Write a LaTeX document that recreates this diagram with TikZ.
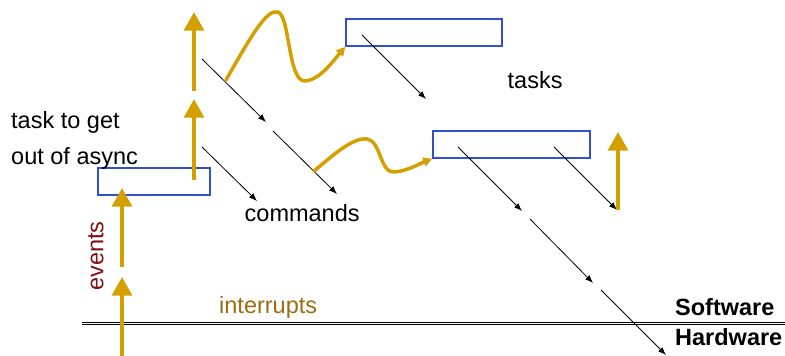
\documentclass[tikz,border=0pt]{standalone}
\usepackage{fontspec}
\setmainfont{Liberation Sans}
\usetikzlibrary{arrows.meta}
\definecolor{flowgold}{RGB}{212,160,0}
\definecolor{irqbrown}{RGB}{158,108,16}
\definecolor{evred}{RGB}{128,16,16}
\definecolor{boxblue}{RGB}{50,80,200}
\tikzset{
  lbl/.style={inner sep=0pt, anchor=base west, font=\fontsize{23.5}{28}\selectfont},
  taskbox/.style={draw=boxblue, line width=1.5pt, fill=white, inner sep=0pt, minimum height=27pt},
  upflow/.style={draw=flowgold, line width=4pt, -{Triangle[length=18.5pt,width=19.5pt]}},
  wavy/.style={draw=flowgold, line width=3.5pt, line cap=round, -{Triangle[length=9pt,width=9pt]}},
  call/.style={draw=black, line width=0.8pt, -{Latex[length=8pt,width=6pt]}}
}
\begin{document}
\begin{tikzpicture}[x=1pt,y=-1pt]
\useasboundingbox (0,0) rectangle (785,356);

% software / hardware boundary
\coordinate (bl) at (82,323.4);
\coordinate (br) at (785,323.4);
\draw[double=white, line width=1.2pt, double distance=1.2pt] (bl) -- (br);

% task boxes
\node[taskbox, minimum width=112pt] (r0) at (154,181.5) {};
\node[taskbox, minimum width=156pt] (r1) at (424,32.5) {};
\node[taskbox, minimum width=157pt] (r2) at (511.5,144.5) {};

% thin call arrows
\foreach \n/\sx/\sy/\tx/\ty in {1/202/59/266/122, 2/273/131/337/194, 3/202/147/257/201,
  4/362/35/426/99, 5/458/147/522/211, 6/554/147/617/210, 7/530/219/593/283, 8/601/290/666/355}{
  \coordinate (cs\n) at (\sx,\sy);
  \coordinate (ct\n) at (\tx,\ty);
  \draw[call] (cs\n) -- (ct\n);
}

% vertical event arrows
\foreach \n/\x/\sy/\ty in {1/122/356/277, 2/122/267/188, 3/194/180/99, 4/194/91/12, 5/618/210/132}{
  \coordinate (us\n) at (\x,\sy);
  \coordinate (ut\n) at (\x,\ty);
  \draw[upflow] (us\n) -- (ut\n);
}

% posting tasks
\coordinate (w1) at (226,80);
\coordinate (w2) at (314,171);
\draw[wavy] (w1) .. controls (250,38) and (267,8) .. (278,12)
  .. controls (290,16) and (288,82) .. (305,81)
  .. controls (320,80) and (334,60) .. (r1.south west);
\draw[wavy] (w2) .. controls (330,158) and (352,137) .. (367,139)
  .. controls (381,141) and (380,173) .. (394,172)
  .. controls (408,171) and (421,163) .. (r2.south west);

% labels
\node[lbl] (t1) at (11,128) {task to get};
\node[lbl] (t2) at (11,164) {out of async};
\node[lbl] (t3) at (244.5,221.7) {commands};
\node[lbl] (t4) at (507.5,88.3) {tasks};
\node[lbl, text=irqbrown] (t5) at (219,313.3) {interrupts};
\node[lbl, font=\fontsize{23.5}{28}\selectfont\bfseries] (t6) at (675,315) {Software};
\node[lbl, font=\fontsize{23.5}{28}\selectfont\bfseries] (t7) at (675,345) {Hardware};
\node[lbl, text=evred, anchor=base, rotate=90] (t8) at (103.3,256) {events};
\end{tikzpicture}
\end{document}
